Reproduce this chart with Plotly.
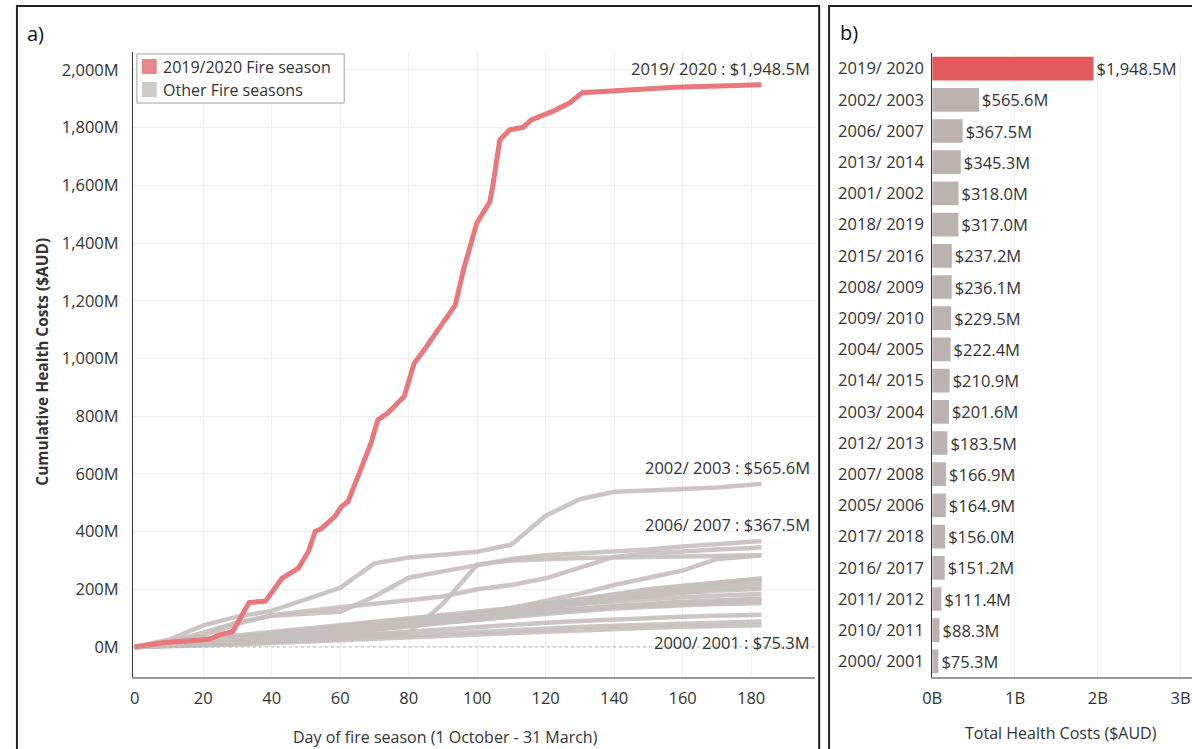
import plotly.graph_objects as go

W, H = 1192, 749
FONT = "Open Sans"
TXT = "#333333"

# --- panel a: cumulative costs (M AUD) by day of season -----------------
red_days = [0, 8.3, 21.8, 24.7, 28.6, 31.4, 33.4, 38.2, 43, 47.8, 50.7, 52.7, 54.6,
            58.4, 60.3, 62.3, 66.1, 69, 71, 73.8, 78.7, 81.6, 84.5, 89.2, 93.6, 96,
            97.9, 99.9, 103.7, 104.7, 106.6, 109.5, 113.4, 115.8, 122, 126.8, 130.7,
            140.3, 157.7, 183]
red_cost = [0, 15, 27, 42, 53, 117, 154, 159, 238, 273, 330, 400, 411,
            452, 486, 504, 625, 706, 787, 810, 868, 983, 1029, 1110, 1185, 1307,
            1388, 1469, 1543, 1607, 1757, 1792, 1801, 1827, 1856, 1884, 1921,
            1928, 1940, 1948.5]

grid_days = [0, 10, 20, 30, 40, 50, 60, 70, 80, 90, 100, 110, 120, 130, 140, 150, 160, 170, 180, 183]

cost_2002_2003 = [0, 25, 75, 105, 125, 165, 205, 290, 310, 320, 330, 355, 455, 512, 538, 542, 546, 553, 562, 565.6]
cost_2006_2007 = [0, 18, 50, 85, 108, 116, 122, 175, 240, 262, 285, 305, 318, 325, 330, 338, 348, 356, 364, 367.5]
cost_2013_2014 = [0, 15, 40, 80, 110, 125, 138, 150, 162, 175, 200, 215, 238, 275, 312, 324, 332, 338, 343, 345.3]
cost_2001_2002 = [0, 5, 12, 20, 28, 35, 40, 45, 48, 150, 285, 300, 305, 308, 310, 312, 314, 316, 317.5, 318.0]
cost_2018_2019 = [0, 8, 16, 25, 35, 45, 55, 65, 78, 92, 110, 135, 160, 185, 215, 240, 265, 305, 315, 317.0]
cost_2015_2016 = [0, 6, 14, 25, 38, 50, 62, 75, 88, 100, 115, 130, 148, 165, 185, 200, 212, 224, 235, 237.2]
cost_2008_2009 = [0, 10, 22, 35, 48, 60, 72, 85, 95, 105, 118, 135, 150, 168, 180, 195, 210, 222, 233, 236.1]
cost_2009_2010 = [0, 4, 10, 18, 28, 40, 55, 70, 85, 100, 112, 125, 140, 160, 180, 195, 205, 215, 226, 229.5]
cost_2004_2005 = [0, 12, 28, 40, 52, 62, 75, 88, 98, 110, 122, 135, 150, 162, 175, 188, 200, 212, 220, 222.4]
cost_2014_2015 = [0, 8, 18, 30, 42, 55, 68, 80, 90, 100, 112, 125, 138, 150, 165, 178, 190, 200, 208, 210.9]
cost_2003_2004 = [0, 5, 12, 22, 32, 42, 55, 65, 78, 92, 105, 120, 135, 150, 165, 178, 188, 195, 200, 201.6]
cost_2012_2013 = [0, 10, 20, 32, 45, 58, 70, 80, 92, 105, 118, 130, 142, 150, 158, 165, 172, 178, 182, 183.5]
cost_2007_2008 = [0, 6, 15, 25, 35, 45, 55, 68, 80, 92, 104, 115, 125, 133, 140, 148, 155, 161, 166, 166.9]
cost_2005_2006 = [0, 3, 8, 15, 25, 35, 48, 60, 72, 85, 98, 110, 122, 132, 142, 150, 157, 161, 164, 164.9]
cost_2017_2018 = [0, 8, 18, 28, 40, 52, 62, 72, 82, 92, 102, 112, 122, 130, 138, 144, 149, 153, 155.5, 156.0]
cost_2016_2017 = [0, 5, 12, 20, 30, 40, 50, 60, 72, 84, 95, 106, 116, 125, 133, 140, 145, 149, 151, 151.2]
cost_2011_2012 = [0, 4, 9, 15, 22, 30, 38, 46, 54, 62, 70, 77, 84, 90, 96, 101, 105, 108, 111, 111.4]
cost_2010_2011 = [0, 3, 7, 12, 18, 24, 30, 36, 42, 48, 54, 59, 64, 69, 74, 78, 82, 85, 88, 88.3]
cost_2000_2001 = [0, 2, 5, 9, 14, 19, 24, 30, 35, 40, 45, 50, 55, 59, 63, 67, 70, 73, 75, 75.3]

other_lines = [cost_2002_2003, cost_2006_2007, cost_2013_2014, cost_2001_2002, cost_2018_2019,
               cost_2015_2016, cost_2008_2009, cost_2009_2010, cost_2004_2005, cost_2014_2015,
               cost_2003_2004, cost_2012_2013, cost_2007_2008, cost_2005_2006, cost_2017_2018,
               cost_2016_2017, cost_2011_2012, cost_2010_2011, cost_2000_2001]

# --- panel b: season totals (M AUD) --------------------------------------
bar_seasons = ["2019/ 2020", "2002/ 2003", "2006/ 2007", "2013/ 2014", "2001/ 2002",
               "2018/ 2019", "2015/ 2016", "2008/ 2009", "2009/ 2010", "2004/ 2005",
               "2014/ 2015", "2003/ 2004", "2012/ 2013", "2007/ 2008", "2005/ 2006",
               "2017/ 2018", "2016/ 2017", "2011/ 2012", "2010/ 2011", "2000/ 2001"]
bar_totals = [1948.5, 565.6, 367.5, 345.3, 318.0, 317.0, 237.2, 236.1, 229.5, 222.4,
              210.9, 201.6, 183.5, 166.9, 164.9, 156.0, 151.2, 111.4, 88.3, 75.3]

# labelled line ends: (season, total, shift in px)
end_labels = [("2019/ 2020", 1948.5, 16), ("2002/ 2003", 565.6, 16),
              ("2006/ 2007", 367.5, 16), ("2000/ 2001", 75.3, -17)]

legend_names = ["2019/2020 Fire season", "Other Fire seasons"]
legend_colors = ["#e8878a", "#cfc9c7"]


def px(x):
    return x / W


def py(y):
    return 1 - y / H


fig = go.Figure()

for vals in other_lines:
    fig.add_trace(go.Scatter(x=grid_days, y=vals, mode="lines", showlegend=False,
                             line=dict(color="rgba(199,191,188,0.9)", width=4.5),
                             xaxis="x", yaxis="y", hoverinfo="skip"))

fig.add_trace(go.Scatter(x=red_days, y=red_cost, mode="lines", showlegend=False,
                         line=dict(color="#e8787b", width=5), xaxis="x", yaxis="y"))

bar_colors = ["#e05a5c"] + ["#bcb3b0"] * (len(bar_seasons) - 1)
fig.add_trace(go.Bar(x=bar_totals, y=bar_seasons, orientation="h", width=0.76,
                     marker=dict(color=bar_colors, line=dict(width=0)),
                     text=["${:,.1f}M".format(v) for v in bar_totals],
                     textposition="outside", cliponaxis=False,
                     textfont=dict(family=FONT, size=16.5, color=TXT),
                     xaxis="x2", yaxis="y2", showlegend=False))

fig.update_layout(
    width=W, height=H,
    margin=dict(l=0, r=0, t=0, b=0),
    paper_bgcolor="white", plot_bgcolor="white",
    font=dict(family=FONT, size=16.5, color=TXT),
    showlegend=False,
    xaxis=dict(domain=[px(124), px(812)], range=[-0.5, 198.7],
               tickvals=[0, 20, 40, 60, 80, 100, 120, 140, 160, 180],
               showgrid=True, gridcolor="#efefef", zeroline=False,
               showline=True, linecolor="#9a9a9a", linewidth=2,
               ticks="", ticklabelstandoff=5, anchor="y"),
    yaxis=dict(domain=[py(677), py(52)], range=[-104, 2062], dtick=200,
               tickformat=",", ticksuffix="M",
               showgrid=True, gridcolor="#efefef", zeroline=False,
               showline=True, linecolor="#333333", linewidth=1,
               ticks="", ticklabelstandoff=10, anchor="x"),
    xaxis2=dict(domain=[px(930), 1.0], range=[0, 3138],
                tickvals=[0, 1000, 2000, 3000], ticktext=["0B", "1B", "2B", "3B"],
                showgrid=True, gridcolor="#efefef", zeroline=False,
                showline=True, linecolor="#9a9a9a", linewidth=2,
                ticks="", ticklabelstandoff=5, anchor="y2"),
    yaxis2=dict(domain=[py(677), py(53)], range=[19.5, -0.5], type="category",
                showgrid=False, zeroline=False,
                showline=True, linecolor="#333333", linewidth=1,
                ticks="", ticklabelstandoff=4, anchor="x2"),
)

# zero reference line (dotted)
fig.add_shape(type="line", xref="x domain", yref="y", x0=0, x1=1, y0=0, y1=0,
              line=dict(color="#b5b5b5", width=1, dash="dot"))

# panel frames
fig.add_shape(type="rect", xref="paper", yref="paper", x0=px(7), x1=px(816),
              y0=-0.05, y1=py(6), line=dict(color="#222222", width=2))
fig.add_shape(type="rect", xref="paper", yref="paper", x0=px(826), x1=1.05,
              y0=-0.05, y1=py(6), line=dict(color="#222222", width=2))

# colour legend box (squares + labels)
fig.add_shape(type="rect", xref="paper", yref="paper", x0=px(128), x1=px(337),
              y0=py(103), y1=py(54), line=dict(color="#a0a0a0", width=1),
              fillcolor="white", layer="above")
for i, (name, col) in enumerate(zip(legend_names, legend_colors)):
    top = 59 + 23 * i
    fig.add_shape(type="rect", xref="paper", yref="paper", x0=px(133), x1=px(148),
                  y0=py(top + 15), y1=py(top), line=dict(width=0), fillcolor=col,
                  layer="above")
    fig.add_annotation(xref="paper", yref="paper", x=px(152), y=py(top + 8), text=name,
                       showarrow=False, xanchor="left", yanchor="middle",
                       font=dict(family=FONT, size=16, color=TXT))

# line-end labels
for name, total, shift in end_labels:
    fig.add_annotation(xref="paper", yref="y", x=px(809), y=total, yshift=shift,
                       text="{} : ${:,.1f}M".format(name, total), showarrow=False,
                       xanchor="right", yanchor="middle",
                       font=dict(family=FONT, size=16.5, color=TXT))

# panel letters and axis titles
fig.add_annotation(xref="paper", yref="paper", x=px(15), y=py(34), text="a)",
                   showarrow=False, xanchor="left", yanchor="middle",
                   font=dict(family=FONT, size=20, color="#111111"))
fig.add_annotation(xref="paper", yref="paper", x=px(835), y=py(33), text="b)",
                   showarrow=False, xanchor="left", yanchor="middle",
                   font=dict(family=FONT, size=20, color="#111111"))
fig.add_annotation(xref="paper", yref="paper", x=px(32), y=py(362), textangle=-90,
                   text="<b>Cumulative Health Costs ($AUD)</b>", showarrow=False,
                   xanchor="center", yanchor="middle",
                   font=dict(family=FONT, size=15.5, color=TXT))
fig.add_annotation(xref="paper", yref="paper", x=px(439), y=py(737),
                   text="Day of fire season (1 October - 31 March)", showarrow=False,
                   xanchor="center", yanchor="middle",
                   font=dict(family=FONT, size=16, color=TXT))
fig.add_annotation(xref="paper", yref="paper", x=px(1060), y=py(733),
                   text="Total Health Costs ($AUD)", showarrow=False,
                   xanchor="center", yanchor="middle",
                   font=dict(family=FONT, size=16, color=TXT))

# drop the default page margin so the figure sits at the window's top-left
fig.write_html("out.html", config={"displayModeBar": False},
               post_script="document.body.style.margin='0';")
